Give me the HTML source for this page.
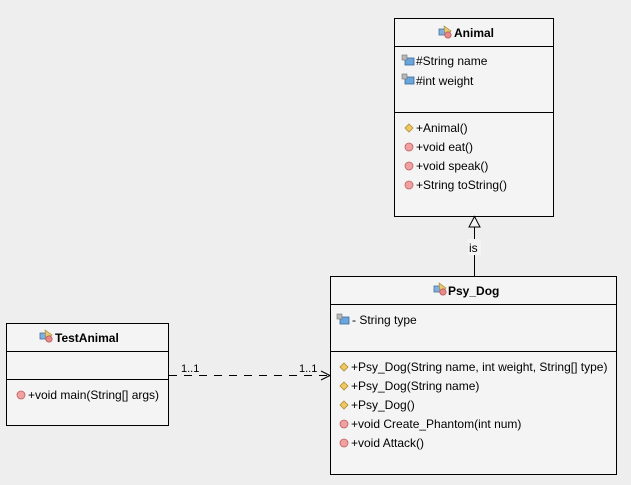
<!DOCTYPE html>
<html><head><meta charset="utf-8"><style>
html,body{margin:0;padding:0;background:#eeeeee;}
svg{display:block;}
text{font-family:"Liberation Sans",sans-serif;font-size:12px;fill:#000;}
.b{font-weight:bold;font-size:12px;}
.s{font-size:11px;}
</style></head><body>
<svg width="631" height="485" xmlns="http://www.w3.org/2000/svg">
<defs>
<g id="cls"><rect x="0" y="2" width="7" height="6" fill="#7fb0e0" stroke="#4a6e98" stroke-width="0.8"/><path d="M3 0 L10 5 L4 10 Z" fill="#e8c870" stroke="#a08030" stroke-width="0.6" transform="translate(2,-1)"/><circle cx="9" cy="8" r="3.2" fill="#e88888" stroke="#b04848" stroke-width="0.6"/></g>
<g id="fld"><rect x="3" y="3" width="9" height="7" fill="#6aa6dc" stroke="#3a6a9a" stroke-width="0.8"/><rect x="0" y="0" width="5" height="5" fill="#b8b8b8" stroke="#707070" stroke-width="0.6"/></g>
<g id="mth"><circle cx="0" cy="0" r="4" fill="#f0a0a0" stroke="#c06060" stroke-width="0.8"/></g>
<g id="ctr"><path d="M0 -4 L4 0 L0 4 L-4 0 Z" fill="#f0c860" stroke="#b08a30" stroke-width="0.8"/></g>
</defs>

<!-- Animal -->
<rect x="394.5" y="18.5" width="159" height="198" fill="#f4f4f4" stroke="#000"/>
<line x1="394" y1="46.5" x2="554" y2="46.5" stroke="#000"/>
<line x1="394" y1="112.5" x2="554" y2="112.5" stroke="#000"/>
<use href="#cls" x="439" y="27"/>
<text x="454" y="37" class="b">Animal</text>
<use href="#fld" x="402" y="55"/><text x="416" y="65">#String name</text>
<use href="#fld" x="402" y="74"/><text x="416" y="85">#int weight</text>
<use href="#ctr" x="409" y="128"/><text x="416" y="132">+Animal()</text>
<use href="#mth" x="409" y="147"/><text x="416" y="151">+void eat()</text>
<use href="#mth" x="409" y="166"/><text x="416" y="170">+void speak()</text>
<use href="#mth" x="409" y="185"/><text x="416" y="189">+String toString()</text>

<!-- inheritance -->
<line x1="474.5" y1="227" x2="474.5" y2="276" stroke="#000"/>
<path d="M474.5 216.5 L480 227 L469 227 Z" fill="#f4f4f4" stroke="#000"/>
<rect x="468" y="239" width="13" height="16" fill="#f4f4f4"/>
<text x="469" y="252">is</text>

<!-- Psy_Dog -->
<rect x="330.5" y="276.5" width="286" height="198" fill="#f4f4f4" stroke="#000"/>
<line x1="330" y1="304.5" x2="617" y2="304.5" stroke="#000"/>
<line x1="330" y1="351.5" x2="617" y2="351.5" stroke="#000"/>
<use href="#cls" x="434" y="284"/>
<text x="448" y="295" class="b">Psy_Dog</text>
<use href="#fld" x="337" y="314"/><text x="352" y="324">- String type</text>
<use href="#ctr" x="344" y="367"/><text x="351" y="371">+Psy_Dog(String name, int weight, String[] type)</text>
<use href="#ctr" x="344" y="386"/><text x="351" y="390">+Psy_Dog(String name)</text>
<use href="#ctr" x="344" y="405"/><text x="351" y="409">+Psy_Dog()</text>
<use href="#mth" x="344" y="424"/><text x="351" y="428">+void Create_Phantom(int num)</text>
<use href="#mth" x="344" y="443"/><text x="351" y="447">+void Attack()</text>

<!-- TestAnimal -->
<rect x="6.5" y="323.5" width="162" height="102" fill="#f4f4f4" stroke="#000"/>
<line x1="6" y1="351.5" x2="169" y2="351.5" stroke="#000"/>
<line x1="6" y1="379.5" x2="169" y2="379.5" stroke="#000"/>
<use href="#cls" x="40" y="331"/>
<text x="55" y="342" class="b">TestAnimal</text>
<use href="#mth" x="21" y="395"/><text x="28" y="399">+void main(String[] args)</text>

<!-- association -->
<line x1="169" y1="375.5" x2="330" y2="375.5" stroke="#000" stroke-dasharray="8,7"/>
<path d="M321 371 L330 375.5 L321 380" fill="none" stroke="#000"/>
<text x="181" y="372" class="s">1..1</text>
<text x="299" y="372" class="s">1..1</text>
</svg>
</body></html>
